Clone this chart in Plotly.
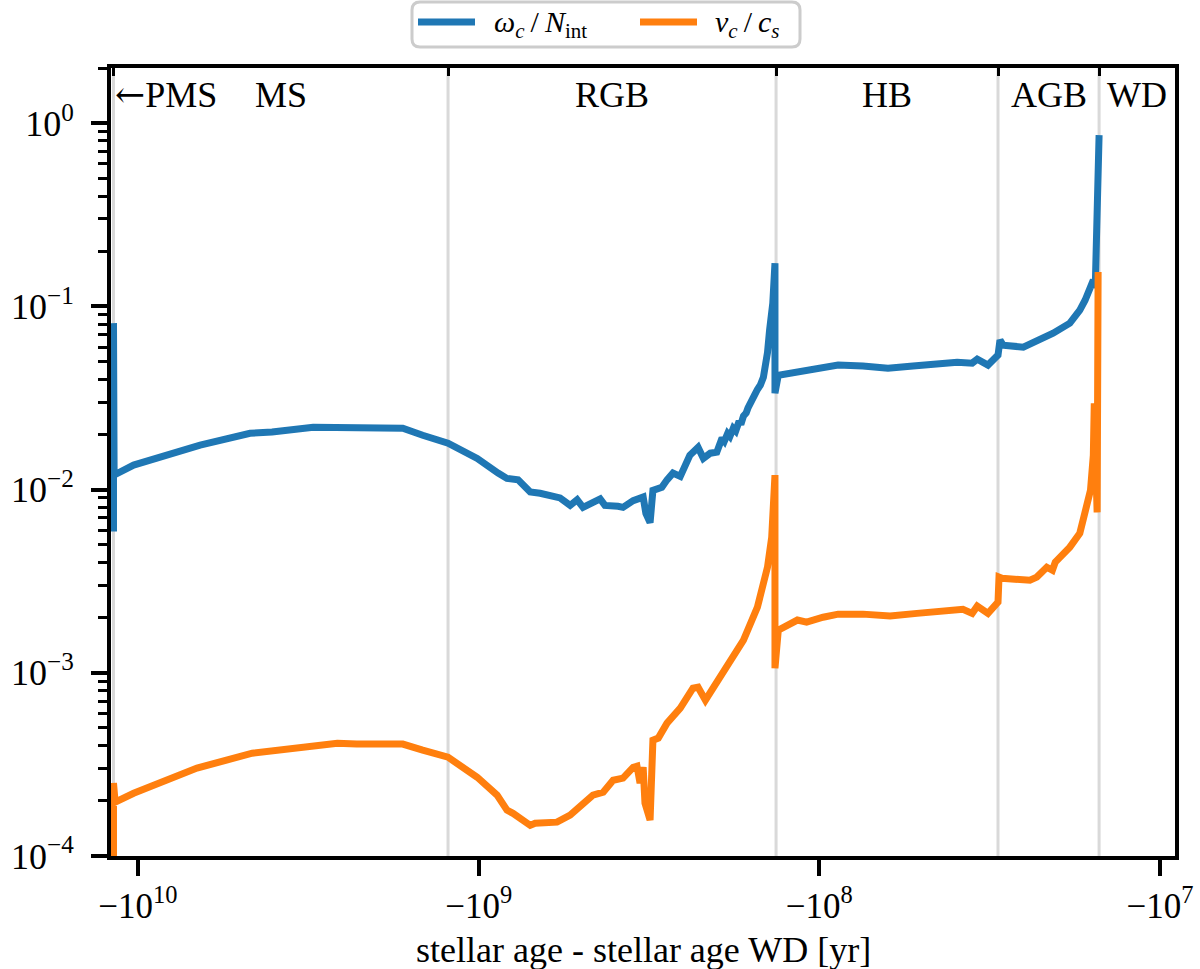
import math
import plotly.graph_objects as go

# ---------------- data (years relative to WD formation; negative = before) ----------------
omega_age = [-1.18e10, -1.18e10, -1.175e10, -1.03e10, -7.89e9, -6.57e9, -4.69e9, -4.04e9,
             -3.06e9, -1.99e9, -1.67e9, -1.46e9, -1.23e9, -1.01e9, -9.26e8, -8.77e8,
             -8.26e8, -7.66e8, -7.06e8, -6.60e8, -5.77e8, -5.39e8, -5.14e8, -4.94e8,
             -4.40e8, -4.26e8, -3.90e8, -3.77e8, -3.52e8, -3.29e8, -3.23e8, -3.14e8,
             -3.08e8, -2.90e8, -2.80e8, -2.69e8, -2.56e8, -2.45e8, -2.40e8, -2.27e8,
             -2.19e8, -2.09e8, -2.00e8, -1.93e8, -1.90e8, -1.86e8, -1.83e8, -1.79e8,
             -1.76e8, -1.72e8, -1.70e8, -1.67e8, -1.64e8, -1.62e8, -1.60e8, -1.57e8,
             -1.55e8, -1.52e8, -1.49e8, -1.46e8, -1.44e8, -1.42e8, -1.40e8, -1.37e8,
             -1.35e8, -1.35e8, -1.32e8, -1.22e8, -1.14e8,
             -1.02e8, -8.81e7, -7.45e7, -6.29e7, -5.31e7, -4.64e7, -3.94e7, -3.56e7,
             -3.44e7, -3.20e7, -3.05e7, -2.99e7, -2.95e7, -2.89e7, -2.52e7, -2.30e7,
             -2.18e7, -2.06e7, -1.84e7, -1.72e7, -1.66e7, -1.60e7, -1.57e7, -1.55e7,
             -1.54e7, -1.53e7, -1.51e7]
omega_ratio = [0.0059, 0.081, 0.0120, 0.0136, 0.0160, 0.0175, 0.0203, 0.0206,
               0.0219, 0.0219, 0.0216, 0.0198, 0.0179, 0.0148, 0.0131, 0.0123,
               0.0115, 0.0113, 0.0097, 0.00955, 0.0090, 0.0082, 0.0088, 0.0080,
               0.0089, 0.0082, 0.0081, 0.0080, 0.0087, 0.0091, 0.0074, 0.0066,
               0.0099, 0.0103, 0.0113, 0.0123, 0.0118, 0.0145, 0.0154, 0.0170,
               0.0148, 0.0158, 0.0160, 0.0191, 0.0184, 0.0202, 0.0195, 0.0216,
               0.0209, 0.0236, 0.0227, 0.0252, 0.0262, 0.0279, 0.0296, 0.0312,
               0.0328, 0.0352, 0.0372, 0.0410, 0.0465, 0.0560, 0.0741, 0.104,
               0.172, 0.0336, 0.0421, 0.0432, 0.0437,
               0.0454, 0.0478, 0.0472, 0.0460, 0.0472, 0.0484, 0.0496, 0.0490,
               0.0515, 0.0478, 0.0515, 0.0542, 0.0654, 0.0614, 0.0599, 0.0646,
               0.0679, 0.0714, 0.081, 0.0953, 0.108, 0.126, 0.139, 0.126,
               0.296, 0.15, 0.86]

vel_age = [-1.18e10, -1.18e10, -1.167e10, -1.03e10, -7.89e9, -6.71e9, -4.62e9, -3.34e9,
           -2.98e9, -2.60e9, -2.28e9, -1.67e9, -1.46e9, -1.23e9, -1.01e9, -9.26e8,
           -8.83e8, -8.26e8, -7.93e8, -7.06e8, -6.83e8, -5.89e8, -5.39e8, -4.62e8,
           -4.31e8, -4.03e8, -3.77e8, -3.52e8, -3.43e8, -3.36e8, -3.29e8, -3.25e8,
           -3.14e8, -3.08e8, -2.97e8, -2.80e8, -2.56e8, -2.35e8, -2.27e8, -2.16e8,
           -1.96e8, -1.67e8, -1.52e8, -1.42e8, -1.38e8, -1.35e8, -1.35e8, -1.32e8,
           -1.16e8, -1.09e8, -9.75e7, -8.81e7, -7.45e7, -6.20e7, -5.17e7, -3.79e7,
           -3.56e7, -3.44e7, -3.20e7, -2.99e7, -2.97e7, -2.91e7, -2.41e7, -2.30e7,
           -2.15e7, -2.07e7, -2.03e7, -1.90e7, -1.84e7, -1.72e7, -1.68e7, -1.64e7,
           -1.60e7, -1.57e7, -1.56e7, -1.54e7, -1.53e7, -1.52e7]
vel_ratio = [8e-5, 0.00025, 0.000197, 0.00022, 0.000269, 0.000302, 0.000364, 0.000388,
             0.000403, 0.000413, 0.000408, 0.000408, 0.000378, 0.000346, 0.000269, 0.000229,
             0.000215, 0.000178, 0.000171, 0.000147, 0.000151, 0.000153, 0.000167, 0.000215,
             0.000223, 0.000259, 0.000266, 0.000305, 0.000309, 0.000250, 0.000305, 0.000194,
             0.000157, 0.000429, 0.000440, 0.000531, 0.000641, 0.000824, 0.000834, 0.000709,
             0.000946, 0.00151, 0.00228, 0.00377, 0.00550, 0.0120, 0.00106, 0.00171,
             0.00194, 0.00189, 0.00201, 0.00209, 0.00209, 0.00204, 0.00211, 0.00222,
             0.00211, 0.00231, 0.00211, 0.00243, 0.00333, 0.00328, 0.00320, 0.00333,
             0.00377, 0.00363, 0.00402, 0.00450, 0.00485, 0.00578, 0.00681, 0.00773,
             0.00993, 0.0154, 0.0296, 0.0113, 0.0075, 0.154]

series_names = ["<i>\u03c9<sub>c</sub></i>\u2009/\u2009<i>N</i><sub>int</sub>",
                "<i>v<sub>c</sub></i>\u2009/\u2009<i>c<sub>s</sub></i>"]

# evolutionary phase boundaries (start of PMS, MS->RGB, RGB->HB, HB->AGB, AGB->WD)
phase_bounds = [-1.18e10, -1.23e9, -1.34e8, -2.99e7, -1.51e7]
phase_names = ["MS", "RGB", "HB", "AGB", "WD"]
x_limits = [-1.2e10, -9.04e6]

x_tick_vals = [-1e10, -1e9, -1e8, -1e7]
x_tick_text = ["\u221210<sup>10</sup>", "\u221210<sup>9</sup>", "\u221210<sup>8</sup>", "\u221210<sup>7</sup>"]
y_tick_vals = [1e-4, 1e-3, 1e-2, 1e-1, 1e0]
y_tick_text = ["10<sup>\u22124</sup>", "10<sup>\u22123</sup>", "10<sup>\u22122</sup>", "10<sup>\u22121</sup>", "10<sup>0</sup>"]
y_limits = [1e-4, 2.0]

FONT = "Liberation Serif"
FS = 36
TFS = 35
COLORS = ["#1f77b4", "#ff7f0e"]

# plot-area geometry in pixels (used to place legend box / title in paper coords)
W, H = 1200, 969
ML, MR, MT, MB = 111, 25, 68, 113
PW, PH = W - ML - MR, H - MT - MB


def px_x(p):
    return (p - ML) / PW


def px_y(p):
    return (H - MB - p) / PH


fig = go.Figure()
fig.add_trace(go.Scatter(x=[-a for a in omega_age], y=omega_ratio, mode="lines",
                         line=dict(color=COLORS[0], width=7), name=series_names[0],
                         showlegend=False))
fig.add_trace(go.Scatter(x=[-a for a in vel_age], y=vel_ratio, mode="lines",
                         line=dict(color=COLORS[1], width=7), name=series_names[1],
                         showlegend=False))
# invisible helper trace for the top axis that carries the phase boundary ticks
fig.add_trace(go.Scatter(x=[-b for b in phase_bounds], y=[0.01] * len(phase_bounds),
                         xaxis="x2", mode="markers", marker=dict(opacity=0),
                         showlegend=False, hoverinfo="skip"))

# phase boundary lines
for b in phase_bounds:
    fig.add_shape(type="line", xref="x", yref="paper", x0=-b, x1=-b, y0=0, y1=1,
                  line=dict(color="#d9d9d9", width=3), layer="below")

# phase labels
lb = [math.log10(-b) for b in phase_bounds] + [math.log10(-x_limits[1])]
for i, name in enumerate(phase_names):
    fig.add_annotation(x=(lb[i] + lb[i + 1]) / 2, y=0.966, xref="x", yref="paper",
                       text=name, showarrow=False, xanchor="center", yanchor="middle",
                       font=dict(family=FONT, size=FS, color="black"))
fig.add_annotation(x=lb[0], y=0.966, xref="x", yref="paper",
                   text="<span style='font-family:DejaVu Serif'>\u2190</span>PMS",
                   showarrow=False, xanchor="left", yanchor="middle", xshift=0,
                   font=dict(family=FONT, size=FS, color="black"))

# legend (framed box above the plot, matplotlib style)
bx0, bx1, by0, by1 = px_x(412), px_x(800), px_y(47), px_y(2)
rx, ry = 8 / PW, 8 / PH
frame = (f"M{bx0 + rx},{by1} L{bx1 - rx},{by1} Q{bx1},{by1} {bx1},{by1 - ry} "
         f"L{bx1},{by0 + ry} Q{bx1},{by0} {bx1 - rx},{by0} L{bx0 + rx},{by0} "
         f"Q{bx0},{by0} {bx0},{by0 + ry} L{bx0},{by1 - ry} Q{bx0},{by1} {bx0 + rx},{by1} Z")
fig.add_shape(type="path", xref="paper", yref="paper", path=frame,
              line=dict(color="#cccccc", width=3), fillcolor="white", layer="above")
sample_x = [(418, 475), (640, 697)]
text_x = [492, 713]
for i in range(2):
    fig.add_shape(type="line", xref="paper", yref="paper",
                  x0=px_x(sample_x[i][0]), x1=px_x(sample_x[i][1]),
                  y0=px_y(22), y1=px_y(22),
                  line=dict(color=COLORS[i], width=7), layer="above")
    fig.add_annotation(x=px_x(text_x[i]), y=px_y(24), xref="paper", yref="paper",
                       text=series_names[i], showarrow=False, xanchor="left",
                       yanchor="middle", font=dict(family=FONT, size=30, color="black"))

# x-axis title
fig.add_annotation(x=0.5, y=px_y(950), xref="paper", yref="paper",
                   text="stellar age - stellar age WD [yr]", showarrow=False,
                   xanchor="center", yanchor="middle",
                   font=dict(family=FONT, size=FS, color="black"))

xr = [math.log10(-x_limits[0]), math.log10(-x_limits[1])]
minor_y = [m * 10 ** e for e in range(-4, 1) for m in range(2, 10)]

fig.update_layout(
    width=W, height=H,
    margin=dict(l=ML, r=MR, t=MT, b=MB, autoexpand=False),
    paper_bgcolor="white", plot_bgcolor="white",
    font=dict(family=FONT, size=FS, color="black"),
    showlegend=False,
    xaxis=dict(type="log", range=xr, showgrid=False, zeroline=False,
               showline=True, linecolor="black", linewidth=3.5, mirror=True,
               ticks="outside", ticklen=16, tickwidth=3.5, tickcolor="black",
               tickvals=[-v for v in x_tick_vals], ticktext=x_tick_text,
               tickfont=dict(family=FONT, size=TFS)),
    xaxis2=dict(type="log", range=xr, overlaying="x", side="top", anchor="y",
                showgrid=False, zeroline=False, showline=False,
                ticks="inside", ticklen=8, tickwidth=3, tickcolor="black",
                tickvals=[-b for b in phase_bounds], showticklabels=False),
    yaxis=dict(type="log", range=[math.log10(y_limits[0]), math.log10(y_limits[1])],
               showgrid=False, zeroline=False,
               showline=True, linecolor="black", linewidth=3.5, mirror=True,
               ticks="outside", ticklen=16, tickwidth=3.5, tickcolor="black",
               tickvals=y_tick_vals, ticktext=[t + "\u2009\u200a" for t in y_tick_text],
               tickfont=dict(family=FONT, size=FS),
               minor=dict(tickvals=minor_y, ticks="outside", ticklen=9,
                          tickwidth=2.5, tickcolor="black", showgrid=False)),
)

fig.write_html("out.html")
